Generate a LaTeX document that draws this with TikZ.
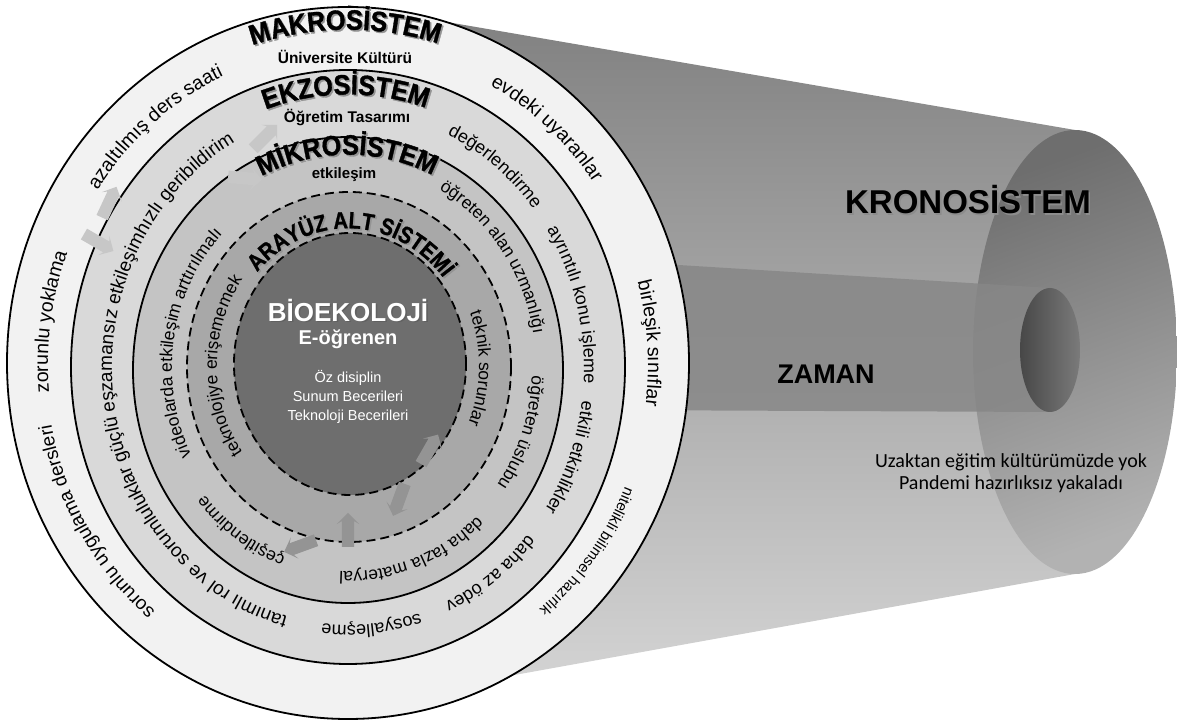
\documentclass[tikz,border=0pt]{standalone}
\usepackage{fontspec}
\setmainfont{Liberation Sans}
\newfontfamily\calibri{Carlito}
\newfontfamily\titlesans[FakeStretch=0.9, FakeBold=1.2]{Liberation Sans}
\newfontfamily\narrowsans[FakeStretch=0.86, FakeBold=1]{Liberation Sans}
\usetikzlibrary{decorations.text,shapes.arrows}

\definecolor{makroband}{gray}{0.95}
\definecolor{ekzoband}{gray}{0.85}
\definecolor{mikroband}{gray}{0.77}
\definecolor{arayuzband}{gray}{0.66}
\definecolor{bioband}{gray}{0.43}

\newcommand{\bandfont}[1]{\fontsize{#1}{#1}\selectfont}
\newcommand{\ringk}{1.05}
% text on a ring, clockwise: [colour]{font}{x radius}{centre angle}{half span}{text}
\newcommand{\ringlabel}[6][black]{%
  \path[decorate, decoration={text along path, text align=center,
      text color=#1, text={|#2|#6}}]
    ({#4+#5}:{#3} and {\ringk*#3}) arc [start angle={#4+#5}, end angle={#4-#5},
      x radius={#3}, y radius={\ringk*#3}];}
% same, with a grey shadow under it
\newcommand{\ringtitle}[5]{%
  \begin{scope}[shift={(1.6,-1.6)}]
    \ringlabel[black!42]{#1}{#2}{#3}{#4}{#5}
  \end{scope}
  \ringlabel{#1}{#2}{#3}{#4}{#5}}

\begin{document}
\begin{tikzpicture}[x=1pt, y=1pt,
	ring/.style={draw=black, line width=1.8pt},
	dashring/.style={draw=black, line width=1.8pt, dash pattern=on 9pt off 5pt},
	blockarr/.style={single arrow, draw=none, minimum height=34, inner xsep=0pt,
				inner ysep=6pt, single arrow head extend=5, single arrow head indent=3},
	outarr/.style={blockarr, fill=black!22},
	inarr/.style={blockarr, fill=black!42},
	title/.style={font=\bandfont{#1}\bfseries},
	title/.default=27]
	\useasboundingbox (-348,-359) rectangle (829,363);

	% kronosistem
	\shade[top color=black!50, bottom color=black!16] (0,358) -- (727,233) -- (727,-211) -- (0,-342) -- cycle;
	\shade[top color=black!57, bottom color=black!30, shading angle=20] (727,11) ellipse [x radius=102, y radius=222];
	\fill[black!47, opacity=0.85] (250,103) -- (702,75) -- (702,-49) -- (250,-47) -- cycle;
	\shade[left color=black!72, right color=black!52] (702,13) ellipse [x radius=30, y radius=62];

	% rings
	\filldraw[ring, fill=makroband] (0,0) ellipse [x radius=341, y radius=356];
	\filldraw[ring, fill=ekzoband] (0,-4) ellipse [x radius=277, y radius=297];
	\filldraw[ring, fill=mikroband] (0,-7) ellipse [x radius=215, y radius=233];
	\filldraw[dashring, fill=arayuzband] (1,-4) ellipse [x radius=162, y radius=175];
	\filldraw[dashring, fill=bioband] (2,-1) ellipse [x radius=116, y radius=131];

	% arrows between layers
	\node[outarr, rotate=65] (arrA) at (-240,158) {};
	\node[outarr, rotate=-30] (arrB) at (-252,122) {};
	\node[outarr, rotate=45] (arrC) at (-85,224) {};
	\node[outarr, rotate=-5] (arrD) at (-106,185) {};
	\node[inarr, rotate=60] (arrE) at (80,-89) {};
	\node[inarr, rotate=-110] (arrF) at (52,-134) {};
	\node[inarr, rotate=90] (arrG) at (0,-170) {};
	\node[inarr, rotate=200] (arrH) at (-45,-182) {};

	% makrosistem
	\begin{scope}[shift={(0,-2)}]
		\renewcommand{\ringk}{1.058}
		\ringtitle{\bandfont{28}\titlesans\bfseries}{317}{90.5}{50}{MAKROSİSTEM}
		\ringlabel{\bandfont{19.5}}{300}{49}{40}{evdeki uyaranlar}
		\ringlabel{\bandfont{19.5}}{300}{4}{40}{birleşik sınıflar}
		\ringlabel{\bandfont{15}}{300}{-37}{40}{nitelikli bilimsel hazırlık}
		\ringlabel{\bandfont{19}}{302}{211}{40}{sorunlu uygulama dersleri}
		\ringlabel{\bandfont{19.5}}{300}{172}{40}{zorunlu yoklama}
		\ringlabel{\bandfont{19.5}}{300}{130}{40}{azaltılmış ders saati}
	\end{scope}
	\node[title=15.5] (univ) at (-3,306) {Üniversite Kültürü};

	% ekzosistem
	\begin{scope}[shift={(0,-5)}]
		\renewcommand{\ringk}{1.09}
		\ringtitle{\bandfont{28}\titlesans\bfseries}{251}{90.5}{50}{EKZOSİSTEM}
		\ringlabel{\bandfont{18}}{236}{52.5}{40}{değerlendirme}
		\ringlabel{\bandfont{18}}{236}{15}{40}{ayrıntılı konu işleme}
		\ringlabel{\bandfont{18}}{236}{-21}{40}{etkili etkinlikler}
		\ringlabel{\bandfont{18}}{236}{-54}{40}{daha az ödev}
		\ringlabel{\bandfont{18}}{236}{-84.5}{40}{sosyalleşme}
		\ringlabel{\bandfont{19}}{236}{187}{85}{tanımlı rol ve sorumluluklar güçlü eşzamansız etkileşimhızlı geribildirim}
	\end{scope}
	\node[title=15.5] (ogret) at (-1,245) {Öğretim Tasarımı};

	% mikrosistem
	\begin{scope}[shift={(0,-5)}]
		\renewcommand{\ringk}{1.083}
		\ringtitle{\bandfont{28}\titlesans\bfseries}{197}{90.3}{60}{MİKROSİSTEM}
		\ringlabel{\bandfont{17.5}}{188}{36}{45}{öğreten alan uzmanlığı}
		\ringlabel{\bandfont{17.5}}{184}{-19.5}{40}{öğreten üslubu}
		\ringlabel{\bandfont{17.5}}{188}{-70}{40}{daha fazla materyal}
		\ringlabel{\bandfont{17.5}}{185}{235.5}{40}{çeşitlendirme}
		\ringlabel{\bandfont{17.5}}{176}{171}{60}{videolarda etkileşim arttırılmalı}
	\end{scope}
	\node[title=15] (etkil) at (-4,188) {etkileşim};

	% arayuz alt sistemi
	\begin{scope}[shift={(0,-3)}]
		\renewcommand{\ringk}{1.11}
		\ringtitle{\bandfont{23.5}\narrowsans\bfseries}{124}{88.5}{75}{ARAYÜZ ALT SİSTEMİ}
		\ringlabel{\bandfont{17.5}}{131}{180}{60}{teknolojiye erişememek}
		\ringlabel{\bandfont{17.5}}{131}{-1}{50}{teknik sorunlar}
	\end{scope}

	% bioekoloji
	\node[title=26, text=black!62] at (1.6,51.4) {BİOEKOLOJİ};
	\node[title=26, text=white] (bio) at (0,53) {BİOEKOLOJİ};
	\node[title=20, text=white] (eogr) at (0,24) {E-öğrenen};
	\node[text=white, align=center, font=\fontsize{14.5}{19}\selectfont] (bec) at (0,-34) {Öz disiplin\\Sunum Becerileri\\Teknoloji Becerileri};

	% kronosistem texts
	\node[title=33, text=black!45] at (621.6,161.4) {KRONOSİSTEM};
	\node[title=33] (krono) at (620,163) {KRONOSİSTEM};
	\node[title=27, text=black!45] at (479.6,-12.6) {ZAMAN};
	\node[title=27] (zaman) at (478,-11) {ZAMAN};
	\node[font=\calibri\fontsize{20}{22}\selectfont, align=center] (uzak) at (663,-110)
		{Uzaktan eğitim kültürümüzde yok\\Pandemi hazırlıksız yakaladı};
\end{tikzpicture}
\end{document}
